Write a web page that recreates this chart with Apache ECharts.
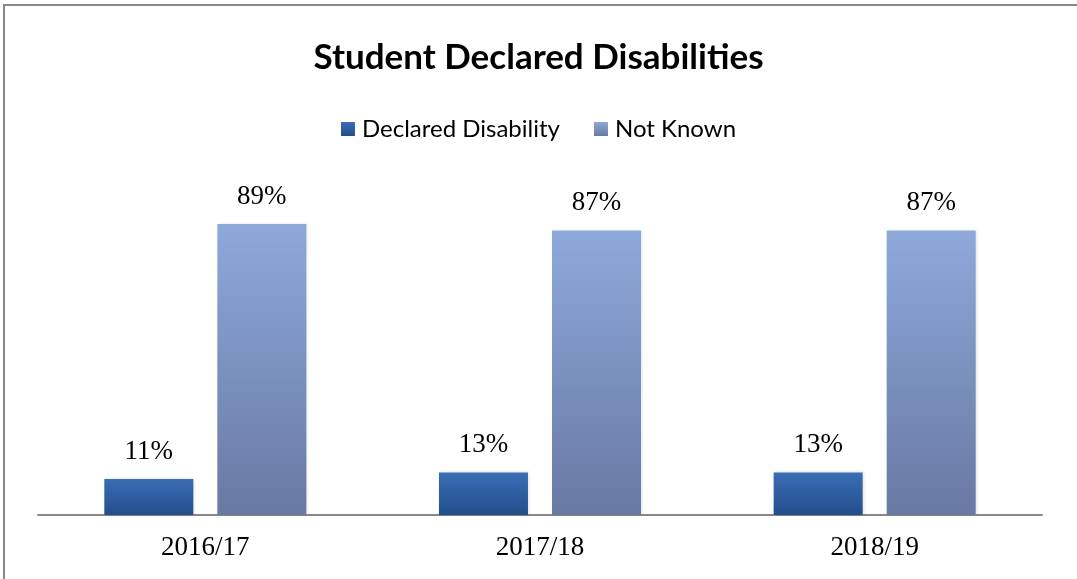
<!DOCTYPE html>
<html><head><meta charset="utf-8">
<script src="https://cdn.jsdelivr.net/npm/echarts@6/dist/echarts.min.js"></script>
<style>
html,body{margin:0;padding:0;background:#fff;}
#frame{position:absolute;left:3px;top:4px;width:1074px;height:575px;border-top:2px solid #888;border-left:2px solid #888;box-sizing:border-box;}
#c{position:absolute;left:0;top:0;width:1077px;height:579px;}
</style></head>
<body>
<div id="frame"></div>
<div id="c"></div>
<script>
const categories = ['2016/17', '2017/18', '2018/19'];
const declaredDisability = [11, 13, 13];
const notKnown = [89, 87, 87];
const seriesNames = ['Declared Disability', 'Not Known'];

const chart = echarts.init(document.getElementById('c'), null, {renderer: 'canvas'});
const grad = (a, b) => new echarts.graphic.LinearGradient(0, 0, 0, 1, [{offset: 0, color: a}, {offset: 1, color: b}]);
const labelStyle = {
  show: true, position: 'top', distance: 14,
  formatter: p => p.value + '%',
  fontFamily: 'Liberation Serif, Times New Roman, serif', fontSize: 27, color: '#000'
};
chart.setOption({
  backgroundColor: 'transparent',
  animation: false,
  title: {
    text: 'Student Declared Disabilities', left: 'center', top: 35,
    textStyle: {fontFamily: 'Lato, Carlito, Calibri, sans-serif', fontWeight: 'bold', fontSize: 35, color: '#000'}
  },
  legend: {
    top: 112, left: 'center', itemWidth: 14, itemHeight: 14, itemGap: 34,
    icon: 'rect',
    textStyle: {fontFamily: 'Lato, Carlito, Calibri, sans-serif', fontSize: 24, color: '#000', padding: [0, 0, 0, 2]},
    data: seriesNames
  },
  grid: {left: 38, right: 35, top: 188, bottom: 64, containLabel: false},
  xAxis: {
    type: 'category', data: categories,
    axisLine: {lineStyle: {color: '#888', width: 2}},
    axisTick: {show: false},
    axisLabel: {fontFamily: 'Liberation Serif, Times New Roman, serif', fontSize: 27, color: '#000', margin: 19}
  },
  yAxis: {type: 'value', min: 0, max: 100, show: false, splitLine: {show: false}},
  series: [
    {
      name: seriesNames[0], type: 'bar', data: declaredDisability,
      barWidth: 89, barGap: '27%',
      itemStyle: {color: grad('#3A6DB5', '#234E8C'), shadowColor: 'rgba(0,0,0,0.15)', shadowBlur: 3, shadowOffsetX: 1},
      label: labelStyle
    },
    {
      name: seriesNames[1], type: 'bar', data: notKnown,
      barWidth: 89,
      itemStyle: {color: grad('#8DA9DA', '#6879A2'), shadowColor: 'rgba(0,0,0,0.15)', shadowBlur: 3, shadowOffsetX: 1},
      label: labelStyle
    }
  ]
});
</script>
</body></html>
